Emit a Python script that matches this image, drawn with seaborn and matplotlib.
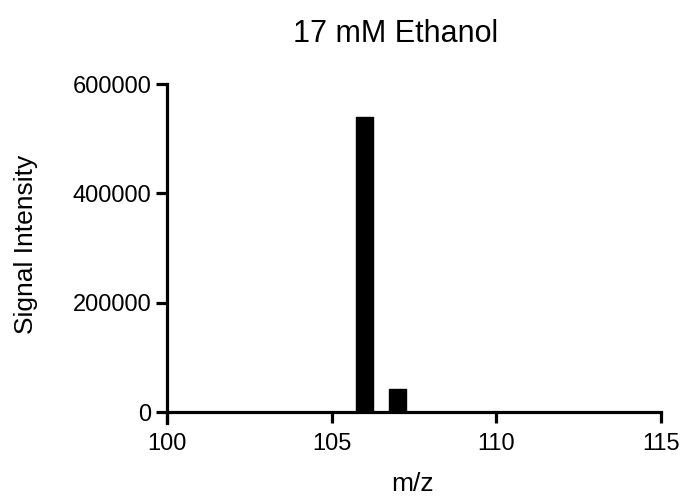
import matplotlib
matplotlib.use("Agg")
import matplotlib.pyplot as plt
import seaborn as sns
import pandas as pd

mz = [106, 107]
intensity = [540000, 43000]
x_ticks = [100, 105, 110, 115]
y_ticks = [0, 200000, 400000, 600000]
title = "17 mM Ethanol"
xlabel = "m/z"
ylabel = "Signal Intensity"

sns.set_theme(style="ticks")
plt.rcParams['font.family'] = ['Liberation Sans', 'DejaVu Sans']

df = pd.DataFrame({"mz": mz, "intensity": intensity})

W, H = 686, 496
fig = plt.figure(figsize=(W / 100, H / 100), dpi=100)
ax = fig.add_axes([167 / W, 1 - 423 / H, (661 - 167) / W, (423 - 84) / H])

sns.barplot(data=df, x="mz", y="intensity", native_scale=True, width=0.5,
            color="black", edgecolor="black", linewidth=1.0, ax=ax, saturation=1)
for p in ax.patches:
    p.set_joinstyle("round")

ax.set_xlim(100, 115)
ax.set_ylim(-20000, 600000)
ax.set_xticks(x_ticks)
ax.set_yticks(y_ticks)
ax.set_xticklabels([str(t) for t in x_ticks])
ax.set_yticklabels([str(t) for t in y_ticks])

ax.spines['top'].set_visible(False)
ax.spines['right'].set_visible(False)
ax.spines['bottom'].set_position(('data', 0))
for s in ['left', 'bottom']:
    ax.spines[s].set_linewidth(2.3)
    ax.spines[s].set_color('black')
    ax.spines[s].set_capstyle('projecting')
ax.tick_params(axis='both', length=8, width=2.3, color='black',
               labelsize=17, labelcolor='black')
ax.tick_params(axis='x', pad=7)
ax.tick_params(axis='y', pad=3)

ax.set_xlabel(xlabel, fontsize=19, color='black', va='baseline')
ax.xaxis.set_label_coords(413 / W, 1 - 491 / H, transform=fig.transFigure)
ax.set_ylabel(ylabel, fontsize=19, color='black', va='bottom')
ax.yaxis.set_label_coords(38 / W, 1 - 244 / H, transform=fig.transFigure)

fig.text(396 / W, 1 - 41.5 / H, title, fontsize=22, color='black',
         ha='center', va='baseline')

fig.savefig("out.png", dpi=100)
